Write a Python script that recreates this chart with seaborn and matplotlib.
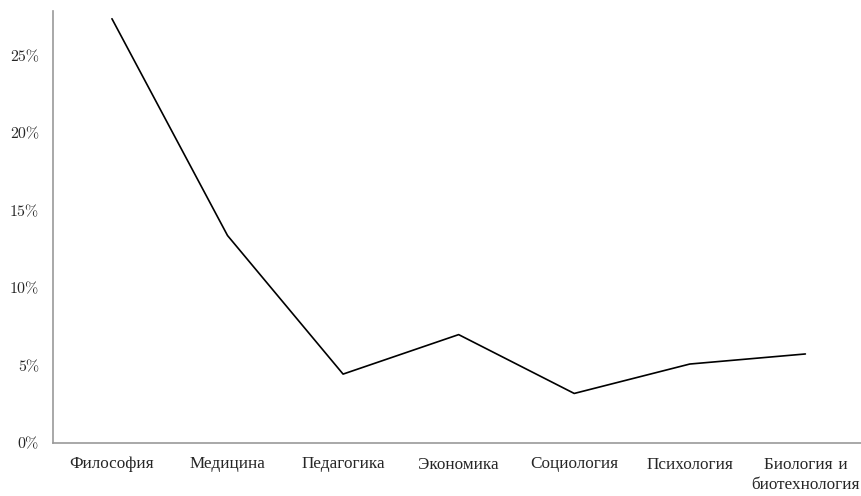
import matplotlib
matplotlib.use("Agg")
import matplotlib.pyplot as plt
import seaborn as sns
import pandas as pd
from matplotlib.ticker import FuncFormatter

categories = ["Философия", "Медицина", "Педагогика", "Экономика",
              "Социология", "Психология", "Биология и\nбиотехнология"]
values = [27.4, 13.4, 4.45, 7.0, 3.2, 5.1, 5.75]
yticks = [0, 5, 10, 15, 20, 25]

sns.set_theme(style="white")
plt.rcParams['font.family'] = ['cmr10', 'Liberation Serif', 'DejaVu Serif']
plt.rcParams['axes.formatter.use_mathtext'] = True

df = pd.DataFrame({"x": range(len(categories)), "y": values})

fig = plt.figure(figsize=(8.62, 4.96), dpi=100)
ax = fig.add_axes([53/862, 1 - 443/496, (862-53)/862, (443-11)/496])
sns.lineplot(data=df, x="x", y="y", ax=ax, color="black", linewidth=1.2)

ax.set_xlim(-0.51, 6.49)
ax.set_ylim(0, 27.9)
ax.set_xticks(range(len(categories)))
ax.set_xticklabels(categories, fontsize=12.3, linespacing=1.35)
ax.set_yticks(yticks)
ax.yaxis.set_major_formatter(FuncFormatter(lambda v, p: f"{int(v)}%"))
ax.tick_params(axis="y", labelsize=11.5, length=0, pad=10)
ax.tick_params(axis="x", length=0, pad=10)
ax.set_xlabel("")
ax.set_ylabel("")
for s in ["top", "right"]:
    ax.spines[s].set_visible(False)
for s in ["left", "bottom"]:
    ax.spines[s].set_color("#999999")
    ax.spines[s].set_linewidth(1.2)
ax.grid(False)

fig.savefig("out.png", dpi=100)
